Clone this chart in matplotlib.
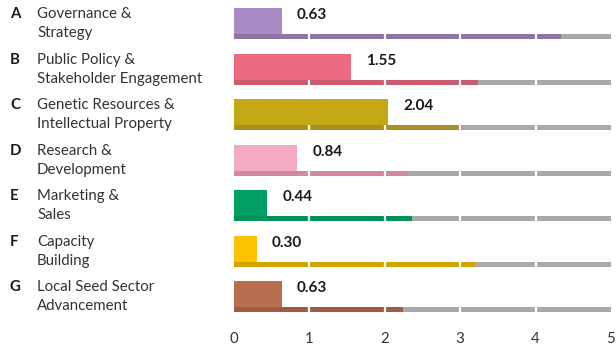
import numpy as np
import matplotlib.pyplot as plt
from matplotlib.transforms import blended_transform_factory

plt.rcParams['font.family'] = ['Lato', 'DejaVu Sans']

letters = ['A', 'B', 'C', 'D', 'E', 'F', 'G']
line1 = ['Governance &', 'Public Policy &', 'Genetic Resources &', 'Research &',
         'Marketing &', 'Capacity', 'Local Seed Sector']
line2 = ['Strategy', 'Stakeholder Engagement', 'Intellectual Property', 'Development',
         'Sales', 'Building', 'Advancement']
scores = [0.63, 1.55, 2.04, 0.84, 0.44, 0.30, 0.63]
targets = [4.34, 3.24, 3.02, 2.31, 2.36, 3.19, 2.24]
max_score = 5

main_colors = ['#a88bc4', '#ec6b82', '#c3a714', '#f4a9c5', '#00a064', '#ffc200', '#b86e50']
thin_colors = ['#8e74a0', '#cb5b6e', '#a89021', '#d0889e', '#009058', '#d4a200', '#9e5c44']

fig = plt.figure(figsize=(6.16, 3.47), dpi=100)
# axes spans pixels x 234..611, y 0..325 (from top)
ax = fig.add_axes([234 / 616, 1 - 325 / 347, (611 - 234) / 616, 325 / 347])
pitch = 45.5
ax.set_ylim((325 - 8) / pitch, -8 / pitch)
ax.set_xlim(0, 5)

rows = np.arange(len(letters))
thick_h = 31 / pitch
thin_h = 5 / pitch
thin_y = rows + 26 / pitch

ax.barh(rows, scores, height=thick_h, align='edge', color=main_colors, zorder=2)
ax.barh(thin_y, [max_score] * len(rows), height=thin_h, align='edge', color='#a9a9a9', zorder=3)
ax.barh(thin_y, targets, height=thin_h, align='edge', color=thin_colors, zorder=4)

# white gaps at whole numbers on the thin bars
for y in thin_y:
    ax.vlines([1, 2, 3, 4], y, y + thin_h, color='white', lw=1.6, zorder=5)

for i, v in enumerate(scores):
    ax.text(v + 0.2, i + 7 / pitch, f'{v:.2f}', ha='left', va='center',
            fontsize=11, fontweight='bold', color='#1a1a1a')

trans = blended_transform_factory(fig.transFigure, ax.transData)
for i in rows:
    ax.text(10 / 616, i + 6 / pitch, letters[i], transform=trans, ha='left', va='center',
            fontsize=10.8, fontweight='bold', color='#1a1a1a')
    ax.text(37 / 616, i + 6 / pitch, line1[i], transform=trans, ha='left', va='center',
            fontsize=10.8, color='#333333')
    ax.text(37 / 616, i + 25 / pitch, line2[i], transform=trans, ha='left', va='center',
            fontsize=10.8, color='#333333')

ax.set_xticks(range(0, 6))
ax.set_yticks([])
ax.tick_params(axis='x', length=0, pad=5, labelsize=10.8, labelcolor='#333333')
for s in ax.spines.values():
    s.set_visible(False)

fig.savefig('out.png', dpi=100)
